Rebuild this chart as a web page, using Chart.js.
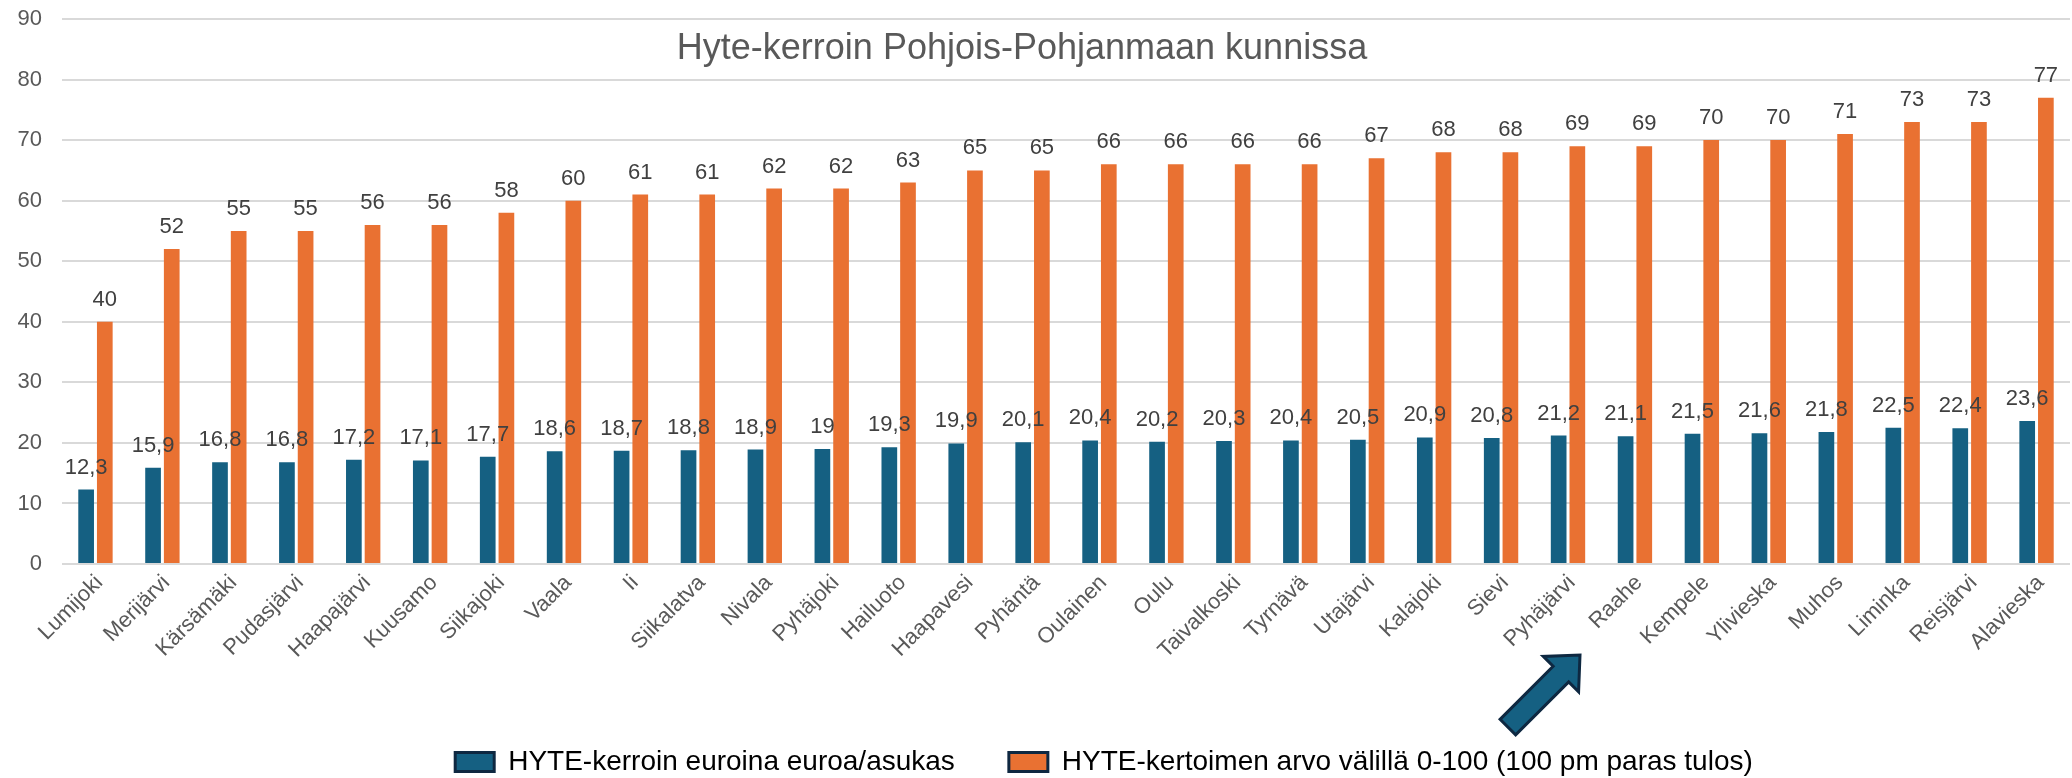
<!DOCTYPE html>
<html lang="fi">
<head>
<meta charset="utf-8">
<title>Hyte-kerroin Pohjois-Pohjanmaan kunnissa</title>
<script src="https://cdn.jsdelivr.net/npm/chart.js@4.4.1/dist/chart.umd.min.js"></script>
<style>
    html, body { margin: 0; padding: 0; background: #ffffff; }
    #wrap { width: 2072px; height: 778px; position: relative; }
</style>
</head>
<body>
<div id="wrap"><canvas id="hyteChart"></canvas></div>
<script>
// Data
const kunnat = [
    'Lumijoki', 'Merijärvi', 'Kärsämäki', 'Pudasjärvi', 'Haapajärvi', 'Kuusamo',
    'Siikajoki', 'Vaala', 'Ii', 'Siikalatva', 'Nivala', 'Pyhäjoki', 'Hailuoto',
    'Haapavesi', 'Pyhäntä', 'Oulainen', 'Oulu', 'Taivalkoski', 'Tyrnävä', 'Utajärvi',
    'Kalajoki', 'Sievi', 'Pyhäjärvi', 'Raahe', 'Kempele', 'Ylivieska', 'Muhos',
    'Liminka', 'Reisjärvi', 'Alavieska'
];
const hyteEuroa = [
    12.3, 15.9, 16.8, 16.8, 17.2, 17.1, 17.7, 18.6, 18.7, 18.8, 18.9, 19, 19.3,
    19.9, 20.1, 20.4, 20.2, 20.3, 20.4, 20.5, 20.9, 20.8, 21.2, 21.1, 21.5, 21.6,
    21.8, 22.5, 22.4, 23.6
];
const hyteArvo = [
    40, 52, 55, 55, 56, 56, 58, 60, 61, 61, 62, 62, 63, 65, 65, 66, 66, 66, 66, 67,
    68, 68, 69, 69, 70, 70, 71, 73, 73, 77
];
const sarjat = [
    'HYTE-kerroin euroina euroa/asukas',
    'HYTE-kertoimen arvo välillä 0-100 (100 pm paras tulos)'
];
const otsikko = 'Hyte-kerroin Pohjois-Pohjanmaan kunnissa';
const yMin = 0, yMax = 90, yStep = 10;

const FONT = "'Liberation Sans', Arial, sans-serif";
const BLUE = '#156082';
const ORANGE = '#E97132';
const DARK = '#0E2841';

Chart.defaults.font.family = FONT;

// Value labels above every bar (decimal comma)
const valueLabels = {
    id: 'valueLabels',
    afterDatasetsDraw(chart) {
        const ctx = chart.ctx;
        ctx.save();
        ctx.font = '22px ' + FONT;
        ctx.fillStyle = '#404040';
        ctx.textAlign = 'center';
        ctx.textBaseline = 'alphabetic';
        chart.data.datasets.forEach((ds, di) => {
            chart.getDatasetMeta(di).data.forEach((bar, i) => {
                const txt = String(ds.data[i]).replace('.', ',');
                ctx.fillText(txt, bar.x, bar.y - 16);
            });
        });
        ctx.restore();
    }
};

// Title sits inside the plot area
const innerTitle = {
    id: 'innerTitle',
    afterDatasetsDraw(chart) {
        const ctx = chart.ctx;
        ctx.save();
        ctx.font = '36px ' + FONT;
        ctx.fillStyle = '#595959';
        ctx.textAlign = 'center';
        ctx.textBaseline = 'alphabetic';
        ctx.fillText(otsikko, chart.width / 2 - 14, chart.chartArea.top + 40);
        ctx.restore();
    }
};

// Block arrow pointing at Raahe
const arrowNote = {
    id: 'arrowNote',
    afterDraw(chart) {
        const x = chart.scales.x;
        const tx = x.getPixelForValue(22) + 12;
        const ty = chart.chartArea.bottom + 91;
        const d = [Math.SQRT1_2, -Math.SQRT1_2];
        const p = [Math.SQRT1_2, Math.SQRT1_2];
        const L = 27, W = 25, s = 11, S = 75;
        const pt = (a, b) => [tx - a * d[0] + b * p[0], ty - a * d[1] + b * p[1]];
        const pts = [
            pt(0, 0), pt(L, W), pt(L, s), pt(L + S, s),
            pt(L + S, -s), pt(L, -s), pt(L, -W)
        ];
        const ctx = chart.ctx;
        ctx.save();
        ctx.beginPath();
        pts.forEach(([px, py], i) => i ? ctx.lineTo(px, py) : ctx.moveTo(px, py));
        ctx.closePath();
        ctx.fillStyle = BLUE;
        ctx.fill();
        ctx.lineWidth = 3;
        ctx.lineJoin = 'miter';
        ctx.strokeStyle = DARK;
        ctx.stroke();
        ctx.restore();
    }
};

// Legend sits a little right of centre and low
const legendShift = {
    id: 'legendShift',
    afterLayout(chart) {
        const lg = chart.legend;
        lg.left += 69;
        lg.right += 69;
        lg.top += 8;
        lg.bottom += 8;
    }
};

const ctx = document.getElementById('hyteChart').getContext('2d');
const hyteChart = new Chart(ctx, {
    type: 'bar',
    data: {
        labels: kunnat,
        datasets: [{
            label: sarjat[0],
            data: hyteEuroa,
            backgroundColor: BLUE,
            borderWidth: 0
        }, {
            label: sarjat[1],
            data: hyteArvo,
            backgroundColor: ORANGE,
            borderWidth: 0
        }]
    },
    options: {
        responsive: true,
        maintainAspectRatio: false,
        animation: false,
        categoryPercentage: 0.558,
        barPercentage: 0.84,
        layout: {
            padding: { top: 19, right: 2, left: 0, bottom: 0 }
        },
        plugins: {
            title: { display: false },
            tooltip: { enabled: false },
            legend: {
                position: 'bottom',
                labels: {
                    color: '#000000',
                    font: { size: 28 },
                    boxWidth: 39,
                    boxHeight: 19,
                    padding: 54,
                    generateLabels(chart) {
                        const items = Chart.defaults.plugins.legend.labels.generateLabels(chart);
                        items.forEach(it => {
                            it.strokeStyle = DARK;
                            it.lineWidth = 3;
                        });
                        return items;
                    }
                }
            }
        },
        scales: {
            x: {
                grid: { display: false, drawTicks: false },
                border: { display: false },
                ticks: {
                    color: '#595959',
                    font: { size: 22 },
                    maxRotation: 45,
                    minRotation: 45,
                    autoSkip: false,
                    labelOffset: 4,
                    padding: 6
                },
                afterFit(scale) {
                    scale.height = 122;
                }
            },
            y: {
                min: yMin,
                max: yMax,
                grid: {
                    color: '#D9D9D9',
                    lineWidth: 2,
                    drawTicks: true,
                    tickLength: 20,
                    tickColor: 'rgba(0,0,0,0)'
                },
                border: { display: false },
                ticks: {
                    stepSize: yStep,
                    color: '#595959',
                    font: { size: 22 },
                    padding: 0
                },
                afterFit(scale) {
                    scale.width = 62;
                }
            }
        }
    },
    plugins: [valueLabels, innerTitle, arrowNote, legendShift]
});
</script>
</body>
</html>
